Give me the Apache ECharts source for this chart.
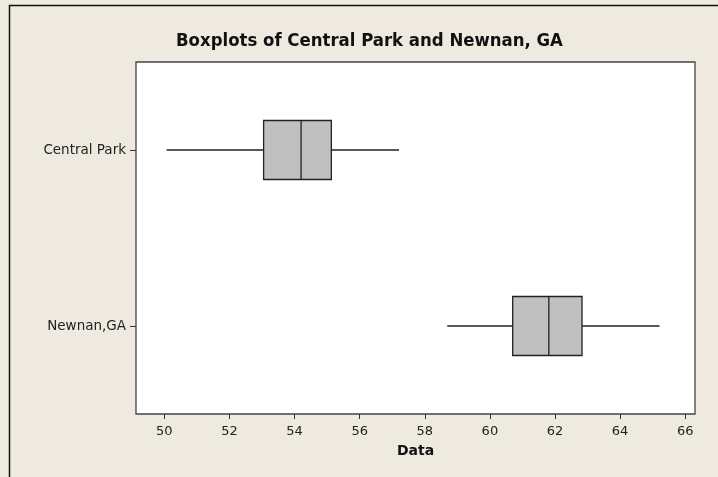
<!DOCTYPE html>
<html>
<head>
<meta charset="utf-8">
<script src="https://cdn.jsdelivr.net/npm/echarts@6/dist/echarts.min.js"></script>
<style>
  html, body { margin: 0; padding: 0; background: #EEEAE0; }
  #chart { width: 718px; height: 477px; }
</style>
</head>
<body>
<div id="chart"></div>
<script>
// Groups shown top to bottom
const groups = ['Central Park', 'Newnan,GA'];
// Five-number summaries: [whisker low, Q1, median, Q3, whisker high]
const centralPark = [50.07, 53.05, 54.20, 55.13, 57.21];
const newnan = [58.69, 60.70, 61.81, 62.83, 65.21];
// Labelled ticks on the value axis
const xTicks = [50, 52, 54, 56, 58, 60, 62, 64, 66];

const summaries = [centralPark, newnan];
const seriesData = summaries.map((s, i) => [i].concat(s));

const chart = echarts.init(document.getElementById('chart'));

function renderBox(params, api) {
  const cat = api.value(0);
  const lo = api.coord([api.value(1), cat]);
  const q1 = api.coord([api.value(2), cat]);
  const med = api.coord([api.value(3), cat]);
  const q3 = api.coord([api.value(4), cat]);
  const hi = api.coord([api.value(5), cat]);
  const band = api.size([0, 1])[1];
  const h = band * 0.335;
  const y = lo[1];
  const lineStyle = { stroke: '#222', lineWidth: 1.3, fill: null };
  return {
    type: 'group',
    children: [
      { type: 'line', shape: { x1: lo[0], y1: y, x2: q1[0], y2: y }, style: lineStyle },
      { type: 'line', shape: { x1: q3[0], y1: y, x2: hi[0], y2: y }, style: lineStyle },
      { type: 'rect', shape: { x: q1[0], y: y - h / 2, width: q3[0] - q1[0], height: h },
        style: { fill: '#C0C0C0', stroke: '#222', lineWidth: 1.3 } },
      { type: 'line', shape: { x1: med[0], y1: y - h / 2, x2: med[0], y2: y + h / 2 }, style: lineStyle }
    ]
  };
}

chart.setOption({
  backgroundColor: '#EEEAE0',
  animation: false,
  title: {
    text: 'Boxplots of Central Park and Newnan, GA',
    left: 171,
    top: 27,
    textStyle: { fontFamily: 'DejaVu Sans Condensed', fontWeight: 'bold', fontSize: 18.4, color: '#111' }
  },
  grid: {
    left: 136, top: 62, right: 23, bottom: 63,
    show: true, backgroundColor: '#ffffff', borderColor: '#444', borderWidth: 1.3
  },
  xAxis: {
    type: 'value',
    min: 49.13,
    max: 66.30,
    splitLine: { show: false },
    axisLine: { show: false },
    axisTick: { show: true, length: 5, customValues: xTicks, lineStyle: { color: '#333' } },
    axisLabel: {
      customValues: xTicks, margin: 11,
      fontFamily: 'DejaVu Sans', fontSize: 13, color: '#222'
    },
    name: 'Data',
    nameLocation: 'middle',
    nameGap: 30,
    nameTextStyle: { fontFamily: 'DejaVu Sans', fontWeight: 'bold', fontSize: 14, color: '#111' }
  },
  yAxis: {
    type: 'category',
    data: groups,
    inverse: true,
    axisLine: { show: false },
    axisTick: { show: true, alignWithLabel: true, length: 6, lineStyle: { color: '#333' } },
    axisLabel: { margin: 10, fontFamily: 'DejaVu Sans', fontSize: 13.5, color: '#222' },
    splitLine: { show: false }
  },
  graphic: [
    { type: 'polyline', silent: true,
      shape: { points: [[9.5, 477], [9.5, 5.5], [718, 5.5]] },
      style: { stroke: '#111', lineWidth: 1.5, fill: null } }
  ],
  series: [{
    type: 'custom',
    renderItem: renderBox,
    encode: { x: [1, 2, 3, 4, 5], y: 0 },
    data: seriesData
  }]
});
</script>
</body>
</html>
